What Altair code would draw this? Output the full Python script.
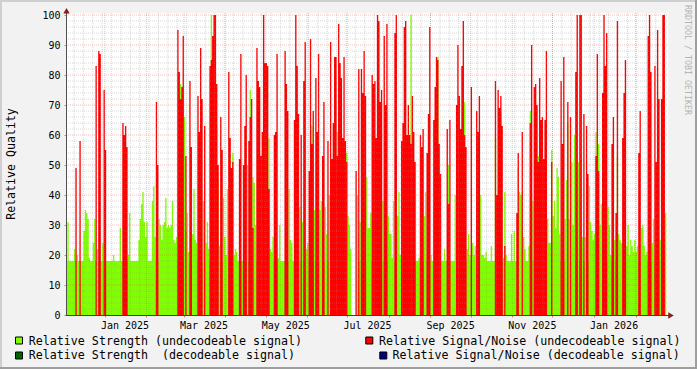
import altair as alt
import pandas as pd

# ---------------- data ----------------
START = "2024-12-03"          # first day plotted
# Relative Strength (undecodeable signal), one value per day
green = [
    18, 31, 18, 18, 18, 18, 22, 18, 20, 18,
    18, 18, 18, 28, 35, 34, 32, 19, 18, 18,
    24, 32, 18, 22, 18, 18, 18, 24, 18, 18,
    18, 18, 18, 18, 18, 20, 18, 18, 18, 18,
    29, 18, 18, 18, 18, 18, 20, 34, 18, 18,
    18, 18, 18, 18, 25, 32, 37, 41, 31, 26,
    31, 18, 18, 18, 38, 43, 26, 18, 18, 32,
    30, 25, 30, 31, 39, 29, 30, 29, 30, 38,
    25, 24, 26, 18, 18, 77, 18, 18, 66, 28,
    34, 21, 18, 18, 27, 42, 25, 24, 18, 18,
    18, 18, 38, 18, 24, 31, 22, 18, 100, 18,
    18, 18, 63, 45, 23, 18, 18, 39, 26, 20,
    42, 18, 18, 46, 54, 20, 22, 21, 18, 18,
    18, 18, 18, 18, 18, 50, 18, 75, 18, 46,
    44, 30, 18, 18, 18, 18, 18, 18, 18, 18,
    18, 59, 22, 21, 26, 18, 18, 18, 19, 30,
    18, 18, 18, 18, 18, 18, 42, 25, 24, 18,
    18, 18, 18, 18, 36, 18, 31, 18, 18, 22,
    24, 18, 18, 63, 18, 35, 18, 18, 18, 35,
    38, 18, 18, 36, 27, 18, 40, 18, 18, 18,
    18, 18, 61, 18, 18, 18, 18, 18, 18, 54,
    33, 30, 22, 0, 0, 0, 0, 40, 18, 31,
    18, 18, 18, 18, 46, 29, 29, 34, 18, 53,
    18, 18, 18, 18, 18, 18, 38, 18, 18, 18,
    33, 27, 27, 19, 38, 18, 18, 33, 41, 20,
    18, 18, 18, 18, 18, 18, 18, 100, 18, 18,
    18, 18, 18, 19, 18, 24, 18, 33, 41, 18,
    18, 18, 20, 18, 18, 18, 18, 86, 18, 32,
    18, 18, 22, 18, 18, 50, 18, 18, 18, 18,
    40, 18, 18, 18, 18, 18, 18, 71, 18, 22,
    27, 20, 18, 24, 20, 23, 18, 18, 18, 40,
    20, 20, 19, 21, 18, 18, 18, 23, 18, 18,
    59, 18, 18, 18, 67, 18, 19, 41, 20, 18,
    18, 18, 27, 18, 28, 18, 18, 49, 41, 40,
    41, 26, 22, 18, 18, 23, 68, 18, 38, 18,
    18, 18, 53, 18, 55, 18, 47, 18, 18, 32,
    24, 24, 55, 33, 38, 29, 49, 46, 27, 18,
    18, 18, 32, 45, 64, 32, 18, 51, 30, 60,
    18, 18, 51, 18, 18, 26, 18, 26, 18, 18,
    43, 31, 28, 25, 27, 61, 18, 57, 30, 37,
    18, 18, 18, 18, 36, 30, 20, 18, 18, 25,
    18, 53, 27, 25, 24, 18, 18, 18, 23, 30,
    20, 25, 23, 21, 25, 21, 23, 18, 18, 29,
    30, 23, 20, 21, 18, 18, 18, 24, 32, 18,
    18, 18, 18, 25, 18, 18, 18, 34,
]
# Relative Signal/Noise (undecodeable signal), one value per day
red = [
    0, 0, 0, 0, 0, 0, 0, 49, 0, 0,
    58, 0, 0, 0, 0, 0, 0, 0, 0, 0,
    0, 0, 83, 0, 88, 87, 0, 0, 75, 55,
    0, 0, 0, 0, 0, 0, 0, 0, 0, 0,
    0, 0, 64, 60, 63, 56, 0, 0, 0, 0,
    0, 0, 0, 0, 0, 0, 0, 0, 0, 0,
    0, 0, 0, 0, 0, 0, 0, 71, 50, 0,
    0, 0, 0, 0, 0, 0, 0, 0, 0, 0,
    0, 0, 0, 95, 81, 72, 76, 93, 0, 53,
    0, 0, 78, 56, 0, 0, 0, 0, 73, 61,
    89, 72, 0, 63, 0, 0, 0, 83, 85, 93,
    100, 100, 77, 50, 0, 66, 55, 0, 0, 0,
    0, 81, 59, 49, 51, 0, 0, 0, 0, 52,
    87, 0, 50, 63, 80, 0, 58, 66, 72, 29,
    0, 0, 89, 78, 76, 53, 61, 100, 84, 84,
    83, 42, 0, 0, 0, 60, 61, 87, 0, 0,
    0, 0, 0, 88, 77, 68, 0, 0, 0, 0,
    65, 100, 83, 67, 0, 60, 0, 78, 91, 0,
    0, 48, 92, 57, 68, 0, 79, 61, 87, 0,
    0, 53, 71, 0, 0, 58, 0, 91, 52, 64,
    86, 86, 53, 97, 84, 79, 59, 86, 58, 51,
    0, 0, 0, 0, 0, 0, 48, 0, 82, 0,
    82, 74, 88, 73, 0, 0, 0, 0, 80, 77,
    78, 59, 100, 98, 71, 75, 0, 93, 70, 97,
    0, 0, 0, 0, 0, 94, 100, 0, 0, 0,
    58, 64, 96, 98, 60, 70, 60, 57, 73, 61,
    51, 0, 0, 0, 60, 56, 62, 0, 0, 54,
    67, 96, 0, 0, 65, 76, 86, 85, 57, 47,
    0, 0, 0, 0, 62, 37, 65, 0, 0, 0,
    0, 70, 90, 73, 62, 83, 98, 60, 56, 0,
    0, 0, 76, 0, 0, 0, 68, 61, 73, 0,
    0, 0, 0, 0, 0, 0, 0, 0, 0, 0,
    78, 40, 75, 69, 73, 63, 0, 23, 0, 0,
    0, 0, 0, 0, 0, 0, 34, 54, 0, 0,
    61, 0, 0, 0, 0, 0, 64, 90, 0, 76,
    77, 70, 51, 79, 65, 66, 52, 65, 88, 0,
    0, 0, 51, 0, 0, 0, 0, 0, 0, 78,
    57, 86, 0, 0, 71, 0, 66, 0, 0, 0,
    81, 100, 0, 100, 100, 0, 67, 0, 63, 47,
    0, 0, 0, 0, 0, 53, 87, 48, 0, 0,
    74, 100, 83, 94, 0, 0, 0, 57, 66, 0,
    34, 98, 0, 0, 0, 59, 74, 85, 0, 0,
    0, 0, 0, 0, 0, 0, 0, 54, 68, 0,
    0, 0, 0, 0, 93, 100, 81, 0, 0, 83,
    51, 95, 72, 0, 72, 100, 100, 0,
]
x_labels = ["Jan 2025", "Mar 2025", "May 2025", "Jul 2025",
            "Sep 2025", "Nov 2025", "Jan 2026"]
y_ticks = [0, 10, 20, 30, 40, 50, 60, 70, 80, 90, 100]
legend_left = ["Relative Strength (undecodeable signal)",
               "Relative Strength  (decodeable signal)"]
legend_right = ["Relative Signal/Noise (undecodeable signal)",
                "Relative Signal/Noise (decodeable signal)"]
y_title = "Relative Quality"
watermark = "RRDTOOL / TOBI OETIKER"

# ---------------- layout / style ----------------
FONT = "DejaVu Sans Mono"
W, H = 602, 302
PAD_L, PAD_T = 66, 13
PX_PER_DAY = 1.34
XMAX = W / PX_PER_DAY
YMAX = H / 3.0
GREEN, RED, DKGREEN, BLUE = "#80FF00", "#FF0000", "#006400", "#00008B"

start = pd.Timestamp(START)
end = start + pd.Timedelta(days=XMAX)
n = len(green)
df = pd.DataFrame({"day": list(range(n)) + [n], "g": green + [0], "r": red + [0]})

month_days = [(d - start).days for d in pd.date_range(start, end, freq="MS")]
week_days = [(d - start).days for d in pd.date_range(start, end, freq="W-MON")]
label_days = [(pd.to_datetime(l, format="%b %Y") - start).days + 15 for l in x_labels]

xs = alt.Scale(domain=[0, XMAX], nice=False, zero=False)
ys = alt.Scale(domain=[0, YMAX], nice=False)
X_AX = alt.Axis(values=month_days, labels=False, domain=False, grid=False,
                ticks=True, tickSize=2, tickColor="#D08080", title=None)
Y_AX = alt.Axis(values=y_ticks, domain=False, grid=False, ticks=True, tickSize=2,
                tickColor="#D08080", labelFont=FONT, labelFontSize=10,
                labelColor="#000000", labelPadding=4, title=None)


def X(f):
    return alt.X(f, type="quantitative", scale=xs, axis=X_AX)


def Y(f):
    return alt.Y(f, type="quantitative", scale=ys, axis=Y_AX)


def keep_spaces(s):
    # SVG collapses runs of spaces; keep the double space visible
    return s.replace("  ", " \u00a0")


one = pd.DataFrame({"a": [0]})

layers = []
green_area = alt.Chart(df).mark_area(interpolate="step-after", color=GREEN).encode(x=X("day"), y=Y("g"))
red_area = alt.Chart(df).mark_area(interpolate="step-after", color=RED).encode(x=X("day"), y=Y("r"))
layers += [green_area, red_area]

# grid on top of the areas
hmin = pd.DataFrame({"v": [v for v in range(2, 101, 2) if v % 10]})
hmaj = pd.DataFrame({"v": [v for v in y_ticks if v > 0]})
vmin = pd.DataFrame({"d": [d for d in week_days if 0 < d < XMAX]})
vmaj = pd.DataFrame({"d": [d for d in month_days if 0 < d < XMAX]})
layers.append(alt.Chart(hmin).mark_rule(color="#8F8F8F", opacity=0.35, strokeDash=[1, 1])
              .encode(y=Y("v"), x=alt.value(0), x2=alt.value(W)))
layers.append(alt.Chart(vmin).mark_rule(color="#8F8F8F", opacity=0.35, strokeDash=[1, 1])
              .encode(x=X("d"), y=alt.value(0), y2=alt.value(H)))
layers.append(alt.Chart(hmaj).mark_rule(color="#DE5050", opacity=0.38, strokeDash=[1, 1])
              .encode(y=Y("v"), x=alt.value(0), x2=alt.value(W)))
layers.append(alt.Chart(vmaj).mark_rule(color="#DE5050", opacity=0.38, strokeDash=[1, 1])
              .encode(x=X("d"), y=alt.value(0), y2=alt.value(H)))

# axis lines and arrows
layers.append(alt.Chart(one).mark_rule(color="#505050", strokeWidth=1)
              .encode(x=alt.value(0.5), y=alt.value(-3), y2=alt.value(H)))
layers.append(alt.Chart(one).mark_rule(color="#404040", strokeWidth=1)
              .encode(y=alt.value(H + 0.5), x=alt.value(0), x2=alt.value(W + 4)))
layers.append(alt.Chart(one).mark_point(shape="triangle-up", filled=True, size=40,
                                        color="#8B1A1A", opacity=1)
              .encode(x=alt.value(0.5), y=alt.value(-2.3)))
layers.append(alt.Chart(one).mark_point(shape="triangle-right", filled=True, size=40,
                                        color="#8B1A1A", opacity=1)
              .encode(x=alt.value(W + 3), y=alt.value(H + 0.5)))

# x labels
xl = pd.DataFrame({"day": label_days, "label": x_labels})
layers.append(alt.Chart(xl).mark_text(font=FONT, fontSize=10, color="#000000",
                                      baseline="alphabetic", align="center")
              .encode(x=X("day"), y=alt.value(315.5), text="label:N"))

# y title and watermark
layers.append(alt.Chart(one).mark_text(text=y_title, font=FONT, fontSize=11.6, angle=270,
                                       baseline="alphabetic", align="center", color="#000000")
              .encode(x=alt.value(15 - PAD_L), y=alt.value(164 - PAD_T)))
layers.append(alt.Chart(one).mark_text(text=watermark, font=FONT, fontSize=8.3, angle=90,
                                       baseline="alphabetic", align="center", color="#B4B4B4")
              .encode(x=alt.value(685 - PAD_L), y=alt.value(60 - PAD_T)))

# legend swatches and texts
sw = [(-50.5, 324, GREEN), (-50.5, 339, DKGREEN), (299.8, 324, RED), (313.8, 339, BLUE)]
for sx, sy, c in sw:
    layers.append(alt.Chart(one).mark_rect(color=c, stroke="#000000", strokeWidth=1)
                  .encode(x=alt.value(sx), x2=alt.value(sx + 7), y=alt.value(sy), y2=alt.value(sy + 7)))
lt = [(-37.2, 332, legend_left[0]), (-37.2, 346.3, legend_left[1]),
      (313.1, 332, legend_right[0]), (326.5, 346.3, legend_right[1])]
for tx, ty, t in lt:
    layers.append(alt.Chart(one).mark_text(text=keep_spaces(t), font=FONT, fontSize=11.65,
                                           align="left", baseline="alphabetic", color="#000000")
                  .encode(x=alt.value(tx), y=alt.value(ty)))

# outer frame (3D-ish border)
TOT_W, TOT_H = 697, 369
fr = [(-PAD_L, TOT_W - PAD_L, -PAD_T, -PAD_T + 2, "#CFCFCF"),
      (-PAD_L, -PAD_L + 2, -PAD_T, TOT_H - PAD_T, "#CFCFCF"),
      (-PAD_L, TOT_W - PAD_L, TOT_H - PAD_T - 2, TOT_H - PAD_T, "#9E9E9E"),
      (TOT_W - PAD_L - 2, TOT_W - PAD_L, -PAD_T, TOT_H - PAD_T, "#9E9E9E")]
for x1, x2, y1, y2, c in fr:
    layers.append(alt.Chart(one).mark_rect(color=c)
                  .encode(x=alt.value(x1), x2=alt.value(x2), y=alt.value(y1), y2=alt.value(y2)))

chart = alt.layer(*layers).properties(
    width=W, height=H,
    padding={"left": PAD_L, "top": PAD_T, "right": TOT_W - PAD_L - W, "bottom": TOT_H - PAD_T - H},
    autosize=alt.AutoSizeParams(type="none"),
).configure(background="#F2F2F2").configure_view(fill="#FFFFFF", stroke=None)

chart.save("out.html", embed_options={"renderer": "svg", "actions": False})
